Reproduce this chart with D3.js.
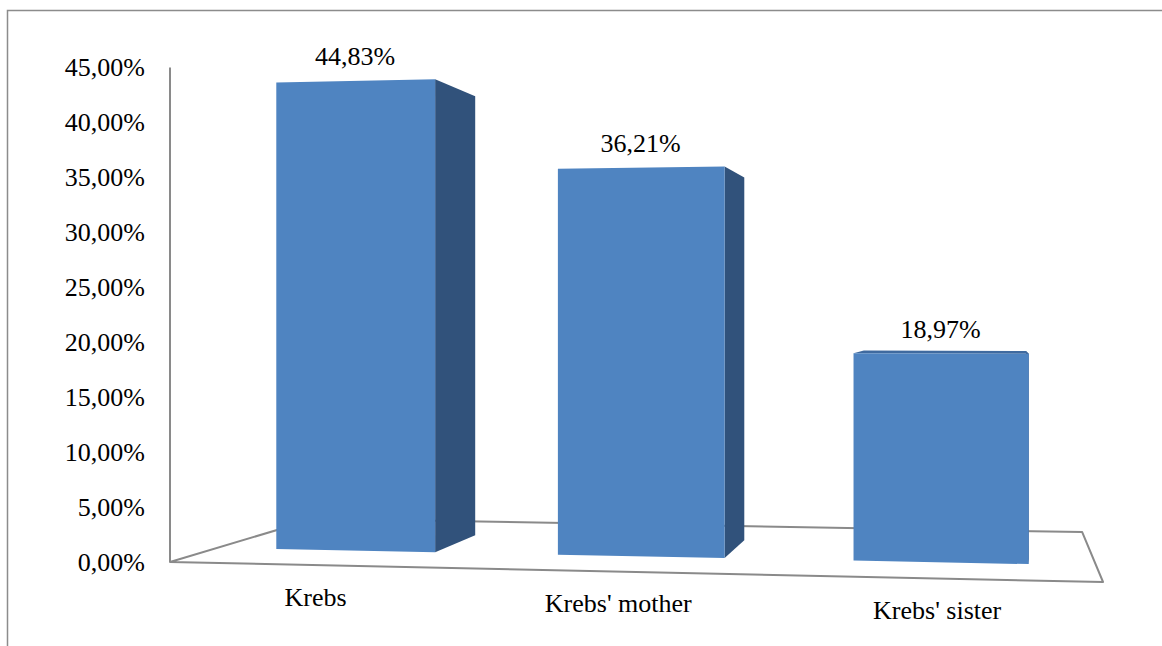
<!DOCTYPE html>
<html>
<head>
<meta charset="utf-8">
<script src="https://cdn.jsdelivr.net/npm/d3@7"></script>
<style>
  html, body { margin: 0; padding: 0; background: #ffffff; }
  svg { display: block; }
  text { font-family: "Liberation Serif", "Times New Roman", serif; fill: #000; }
</style>
</head>
<body>
<script>
// Share of cases by family member
const categories = ["Krebs", "Krebs' mother", "Krebs' sister"];
const values = [0.4483, 0.3621, 0.1897];
const tickValues = [0, 0.05, 0.10, 0.15, 0.20, 0.25, 0.30, 0.35, 0.40, 0.45];

const W = 1162, H = 646;

// Comma-decimal percent formatting ("44,83%")
const locale = d3.formatLocale({ decimal: ",", thousands: ".", grouping: [3], currency: ["", ""] });
const pct = locale.format(".2%");

// Scales: category position along the floor (0..1), value height in px on the front plane
const xBand = d3.scaleBand().domain(categories).range([0, 1])
  .paddingInner(0.43).paddingOuter(0.215);
const yHeight = d3.scaleLinear().domain([0, 0.45]).range([0, 494.5]);

// Depth of the bars within the floor (0 = front edge, 1 = back edge)
const barDepth = [0.287, 0.665];

// Perspective projection: (u along categories, height in px, w depth) -> screen
const origin = [170, 562];      // front-left floor corner
const vpAcross = [-11306, 316]; // vanishing point of the category direction
const vpDepth = [992, 316];     // vanishing point of the depth direction
const kA = -0.07519, kD = 0.2136;
function proj(u, hgt, w) {
  const d = 1 + kA * u + kD * w;
  return [
    (origin[0] + kA * vpAcross[0] * u + kD * vpDepth[0] * w) / d,
    (origin[1] + kA * vpAcross[1] * u + kD * vpDepth[1] * w - hgt) / d
  ];
}
const poly = pts => "M" + pts.map(p => p[0].toFixed(2) + "," + p[1].toFixed(2)).join("L") + "Z";

const svg = d3.select("body").append("svg").attr("width", W).attr("height", H);

// Chart area border (left and top edges)
svg.append("path")
  .attr("d", `M7.5,${H} V10.5 H${W}`)
  .attr("fill", "none").attr("stroke", "#8c8c8c").attr("stroke-width", 1.5);

// Floor outline
svg.append("path")
  .attr("d", poly([proj(0, 0, 0), proj(1, 0, 0), proj(1, 0, 1), proj(0, 0, 1)]))
  .attr("fill", "none").attr("stroke", "#8a8a8a").attr("stroke-width", 2)
  .attr("stroke-linejoin", "round");

// Vertical value axis line at the front-left corner
const axTop = proj(0, yHeight(0.45), 0), axBot = proj(0, 0, 0);
svg.append("line")
  .attr("x1", axBot[0]).attr("y1", axBot[1]).attr("x2", axTop[0]).attr("y2", axTop[1])
  .attr("stroke", "#8a8a8a").attr("stroke-width", 2);

// Value axis tick labels
svg.append("g").selectAll("text").data(tickValues).join("text")
  .attr("x", 145)
  .attr("y", d => proj(0, yHeight(d), 0)[1] + 8.6)
  .attr("text-anchor", "end")
  .attr("font-size", 26)
  .text(d => pct(d));

// Bars: side, top (only when seen from above), then front face
const bars = svg.append("g").selectAll("g").data(categories).join("g");
bars.each(function (cat, i) {
  const g = d3.select(this);
  const u0 = xBand(cat), u1 = u0 + xBand.bandwidth();
  const hv = yHeight(values[i]);
  const [wf, wb] = barDepth;

  g.append("path")
    .attr("d", poly([proj(u1, 0, wf), proj(u1, hv, wf), proj(u1, hv, wb), proj(u1, 0, wb)]))
    .attr("fill", "#31527b");
  if (proj(u0, hv, wb)[1] < proj(u0, hv, wf)[1]) {
    g.append("path")
      .attr("d", poly([proj(u0, hv, wf), proj(u1, hv, wf), proj(u1, hv, wb), proj(u0, hv, wb)]))
      .attr("fill", "#3f6a9f");
  }
  g.append("path")
    .attr("d", poly([proj(u0, 0, wf), proj(u1, 0, wf), proj(u1, hv, wf), proj(u0, hv, wf)]))
    .attr("fill", "#4f84c1");

  const top = proj((u0 + u1) / 2, hv, wf);
  g.append("text")
    .attr("x", top[0]).attr("y", top[1] - 16)
    .attr("text-anchor", "middle").attr("font-size", 26)
    .text(pct(values[i]));
});

// Category labels under the floor's front edge
svg.append("g").selectAll("text").data(categories).join("text")
  .attr("x", d => proj(xBand(d) + xBand.bandwidth() / 2, 0, 0)[0])
  .attr("y", d => proj(xBand(d) + xBand.bandwidth() / 2, 0, 0)[1] + 40.5)
  .attr("text-anchor", "middle").attr("font-size", 26)
  .text(d => d);
</script>
</body>
</html>
